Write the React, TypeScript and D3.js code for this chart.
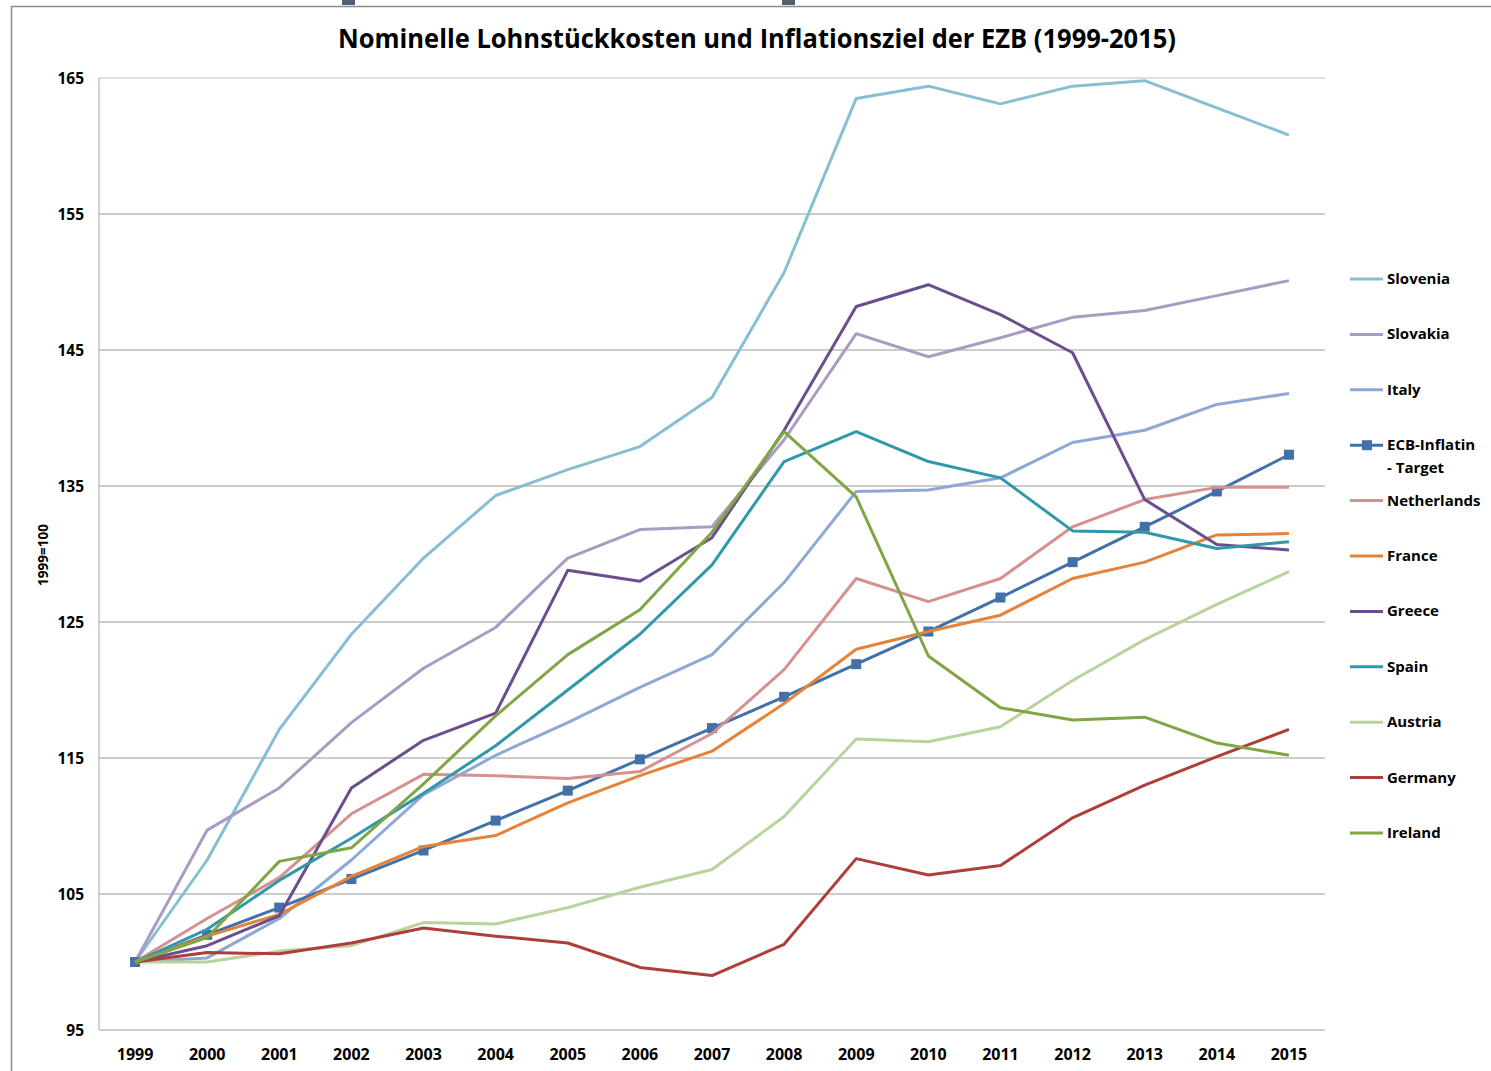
import React from 'react';
import * as d3 from 'd3';

// years on the x axis
const years = ['1999', '2000', '2001', '2002', '2003', '2004', '2005', '2006', '2007', '2008',
  '2009', '2010', '2011', '2012', '2013', '2014', '2015'];

// y axis ticks
const yTicks = [95, 105, 115, 125, 135, 145, 155, 165];

// series values (1999=100)
const slovenia = [100, 107.5, 117.1, 124.1, 129.7, 134.3, 136.2, 137.9, 141.5, 150.7, 163.5, 164.4, 163.1, 164.4, 164.8, 162.8, 160.8];
const slovakia = [100, 109.7, 112.8, 117.6, 121.6, 124.6, 129.7, 131.8, 132.0, 138.4, 146.2, 144.5, 145.9, 147.4, 147.9, 149.0, 150.1];
const italy = [100, 100.3, 103.2, 107.5, 112.3, 115.2, 117.6, 120.2, 122.6, 127.9, 134.6, 134.7, 135.6, 138.2, 139.1, 141.0, 141.8];
const ecbTarget = [100, 102.0, 104.0, 106.1, 108.2, 110.4, 112.6, 114.9, 117.2, 119.5, 121.9, 124.3, 126.8, 129.4, 132.0, 134.6, 137.3];
const netherlands = [100, 103.2, 106.2, 110.9, 113.8, 113.7, 113.5, 114.0, 116.8, 121.5, 128.2, 126.5, 128.2, 132.0, 134.0, 134.9, 134.9];
const france = [100, 101.9, 103.5, 106.3, 108.5, 109.3, 111.7, 113.7, 115.5, 119.0, 123.0, 124.3, 125.5, 128.2, 129.4, 131.4, 131.5];
const greece = [100, 101.2, 103.4, 112.8, 116.3, 118.3, 128.8, 128.0, 131.2, 139.1, 148.2, 149.8, 147.6, 144.8, 134.0, 130.7, 130.3];
const spain = [100, 102.4, 106.0, 109.1, 112.4, 115.9, 120.0, 124.1, 129.2, 136.8, 139.0, 136.8, 135.6, 131.7, 131.6, 130.4, 130.9];
const austria = [100, 100.0, 100.8, 101.2, 102.9, 102.8, 104.0, 105.5, 106.8, 110.7, 116.4, 116.2, 117.3, 120.7, 123.7, 126.3, 128.7];
const germany = [100, 100.7, 100.6, 101.4, 102.5, 101.9, 101.4, 99.6, 99.0, 101.3, 107.6, 106.4, 107.1, 110.6, 113.0, 115.1, 117.1];
const ireland = [100, 101.8, 107.4, 108.4, 113.1, 118.1, 122.6, 125.9, 131.6, 139.0, 134.2, 122.5, 118.7, 117.8, 118.0, 116.1, 115.2];

const seriesNames = ['Slovenia', 'Slovakia', 'Italy', 'ECB-Inflatin - Target', 'Netherlands', 'France',
  'Greece', 'Spain', 'Austria', 'Germany', 'Ireland'];
const seriesValues = [slovenia, slovakia, italy, ecbTarget, netherlands, france, greece, spain, austria, germany, ireland];
const seriesColors = ['#86BFD2', '#A99CC3', '#8EA8D5', '#4270A8', '#D5918F', '#E5833A',
  '#6A4E8E', '#3198AC', '#B8D49C', '#AD3E3C', '#80A545'];

const W = 1491;
const H = 1071;
const plot = { left: 99, right: 1325, top: 78, bottom: 1030 };
const font = '"Open Sans", sans-serif';
const ECB = 3;

export default function App() {
  const x = d3.scaleBand().domain(years).range([plot.left, plot.right]);
  const y = d3.scaleLinear().domain([95, 165]).range([plot.bottom, plot.top]);
  const cx = (yr: string) => (x(yr) as number) + x.bandwidth() / 2;

  const line = d3.line<number>()
    .x((_, i) => cx(years[i]))
    .y(d => y(d));

  const legendTop = 279;
  const legendStep = 55.4;

  return (
    <div style={{ position: 'absolute', left: 0, top: 0 }}>
      <svg width={W} height={H} style={{ display: 'block', background: '#fff' }}>
        {/* chart frame */}
        <line x1={11} x2={W} y1={6.5} y2={6.5} stroke="#8C8C8C" strokeWidth={1.5} />
        <line x1={11.5} x2={11.5} y1={6} y2={H} stroke="#8C8C8C" strokeWidth={1.5} />
        <rect x={342} y={0} width={13} height={5} fill="#4F6070" />
        <rect x={782} y={0} width={13} height={5} fill="#4F6070" />

        <text x={757} y={48} textAnchor="middle" fontFamily={font} fontWeight="bold" fontSize={27}
          textLength={838} lengthAdjust="spacingAndGlyphs" fill="#000">
          Nominelle Lohnstückkosten und Inflationsziel der EZB (1999-2015)
        </text>

        {/* gridlines and y ticks */}
        {yTicks.map(t => (
          <g key={t}>
            {t !== 95 && (
              <line x1={plot.left} x2={plot.right} y1={y(t)} y2={y(t)}
                stroke={t === 165 ? '#BFBFBF' : '#999'} strokeWidth={1} />
            )}
            <text x={84} y={y(t) + 5.5} textAnchor="end" fontFamily={font} fontWeight="bold" fontSize={15.5} fill="#000">
              {t}
            </text>
          </g>
        ))}
        <line x1={plot.left} x2={plot.left} y1={plot.top} y2={plot.bottom} stroke="#A6A6A6" strokeWidth={1} />
        <line x1={plot.left} x2={plot.right} y1={plot.bottom} y2={plot.bottom} stroke="#BFBFBF" strokeWidth={1.5} />

        {years.map(yr => (
          <text key={yr} x={cx(yr)} y={1060} textAnchor="middle" fontFamily={font} fontWeight="bold" fontSize={16} fill="#000">
            {yr}
          </text>
        ))}

        <text transform="translate(48,555) rotate(-90)" textAnchor="middle" fontFamily={font}
          fontWeight="bold" fontSize={13.5} fill="#000">
          1999=100
        </text>

        {/* series, in legend order: later ones drawn on top */}
        {seriesValues.map((vals, i) => (
          <g key={seriesNames[i]}>
            <path d={line(vals) || ''} fill="none"
              stroke={seriesColors[i]} strokeWidth={3} strokeLinejoin="round" />
            {i === ECB && vals.map((v, j) => (
              <rect key={j} x={cx(years[j]) - 5} y={y(v) - 5} width={10} height={10} fill={seriesColors[i]} />
            ))}
          </g>
        ))}

        {/* legend */}
        {seriesNames.map((name, i) => {
          const ly = legendTop + i * legendStep;
          const isEcb = i === ECB;
          return (
            <g key={name}>
              <line x1={1350} x2={1383} y1={ly} y2={ly} stroke={seriesColors[i]} strokeWidth={3} />
              {isEcb && <rect x={1362} y={ly - 5} width={10} height={10} fill={seriesColors[i]} />}
              {isEcb ? (
                <text fontFamily={font} fontWeight="bold" fontSize={15} fill="#000">
                  <tspan x={1387} y={ly + 5}>ECB-Inflatin</tspan>
                  <tspan x={1387} y={ly + 28}>- Target</tspan>
                </text>
              ) : (
                <text x={1387} y={ly + 5} fontFamily={font} fontWeight="bold" fontSize={15} fill="#000">
                  {name}
                </text>
              )}
            </g>
          );
        })}
      </svg>
    </div>
  );
}
